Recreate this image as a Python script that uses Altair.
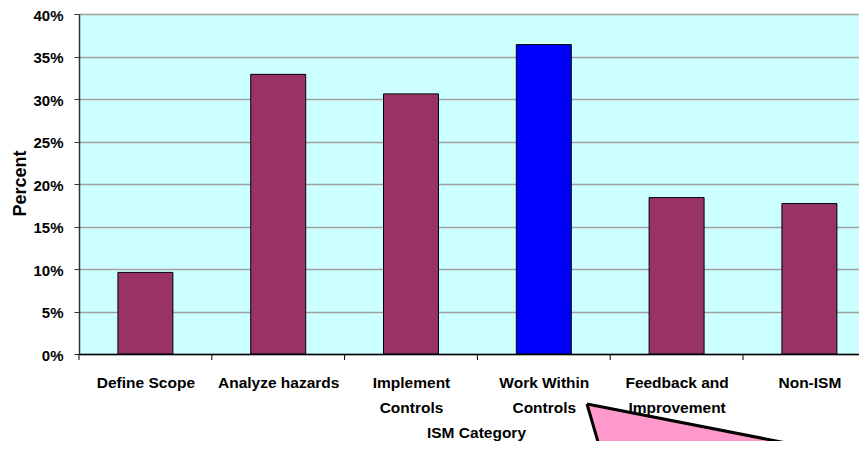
import json
import altair as alt
import pandas as pd

categories = ["Define Scope", "Analyze hazards", "Implement\nControls",
              "Work Within\nControls", "Feedback and\nImprovement", "Non-ISM"]
percent = [9.6, 32.9, 30.6, 36.4, 18.4, 17.7]
highlight = "Work Within\nControls"
y_ticks = [0, 5, 10, 15, 20, 25, 30, 35, 40]

# callout shape (pointer) vertices in plot pixel units
callout_x = [508, 524, 789, 508]
callout_y = [390, 445, 445, 390]

FONT = "Liberation Sans, Arial, sans-serif"
W, H = 780, 340      # visible plot area (the original is cropped on the right)
STEP = 132.8         # pixel width of one category slot
BAR = 0.414          # bar width as a fraction of the slot

n = len(categories)
df = pd.DataFrame({"cat": categories, "pct": percent, "i": list(range(n))})
poly = pd.DataFrame({"px": callout_x, "py": callout_y, "o": list(range(len(callout_x)))})

xscale = alt.Scale(domain=[0, W / STEP], nice=False, zero=False)
yscale = alt.Scale(domain=[0, 40], nice=False)
label_expr = "split(" + json.dumps(categories) + "[floor(datum.value)], '\\n')"

bars = alt.Chart(df).transform_calculate(
    x0=f"datum.i + {(1 - BAR) / 2}", x1=f"datum.i + {(1 + BAR) / 2}"
).mark_bar(stroke="black", strokeWidth=1).encode(
    x=alt.X("x0:Q", scale=xscale,
            axis=alt.Axis(title="ISM Category", values=[k + 0.5 for k in range(n)],
                          labelExpr=label_expr, labelAngle=0, ticks=False, grid=False,
                          labelLineHeight=25, labelPadding=21, labelBaseline="top",
                          labelFont=FONT, labelFontSize=15.5, labelFontWeight="bold",
                          labelColor="black", domainColor="black", domainWidth=1.5,
                          labelFlush=False, labelOverlap=False, labelBound=False,
                          titleFont=FONT, titleFontSize=15.5, titleFontWeight="bold",
                          titleColor="black", titleX=397, titleY=83,
                          titleBaseline="alphabetic", titleAlign="center",
                          zindex=1)),
    x2="x1:Q",
    y=alt.Y("pct:Q", scale=yscale,
            axis=alt.Axis(title="Percent", values=y_ticks,
                          labelExpr="datum.value + '%'",
                          labelFont=FONT, labelFontSize=15, labelFontWeight="bold",
                          labelColor="black", labelPadding=11, labelOffset=1,
                          tickSize=5, tickColor="#333333", domainColor="#333333",
                          domainWidth=1.5, gridColor="#A0A0A0", gridWidth=1.5,
                          titleFont=FONT, titleFontSize=18, titleFontWeight="bold",
                          titleColor="black", titleAngle=270, titleX=-54, titleY=169,
                          titleBaseline="alphabetic", titleAlign="center")),
    y2=alt.Y2Datum(0),
    color=alt.condition(alt.datum.cat == highlight, alt.value("#0000FF"), alt.value("#993366")),
)

# category separator ticks at the slot boundaries
ticks = alt.Chart(df).mark_rule(color="black", strokeWidth=1, clip=False).encode(
    x=alt.X("i:Q", scale=xscale),
    y=alt.value(H),
    y2=alt.value(H + 6),
)

base = alt.layer(bars, ticks)

callout = alt.Chart(poly).mark_line(fill="#FF99CC", stroke="black", strokeWidth=3,
                                    clip=False, strokeJoin="miter").encode(
    x=alt.X("px:Q", scale=alt.Scale(domain=[0, W], range=[0, W]), axis=None),
    y=alt.Y("py:Q", scale=alt.Scale(domain=[0, H], range=[0, H]), axis=None),
    order="o:O",
)

chart = alt.layer(base, callout).resolve_scale(x="independent", y="independent").properties(
    width=W, height=H,
    padding={"left": 71, "top": 6, "right": 0, "bottom": 87},
    autosize=alt.AutoSizeParams(type="none"),
).configure_view(fill="#CCFFFF", stroke=None)

chart.save("out.html", embed_options={"renderer": "svg", "actions": False})
